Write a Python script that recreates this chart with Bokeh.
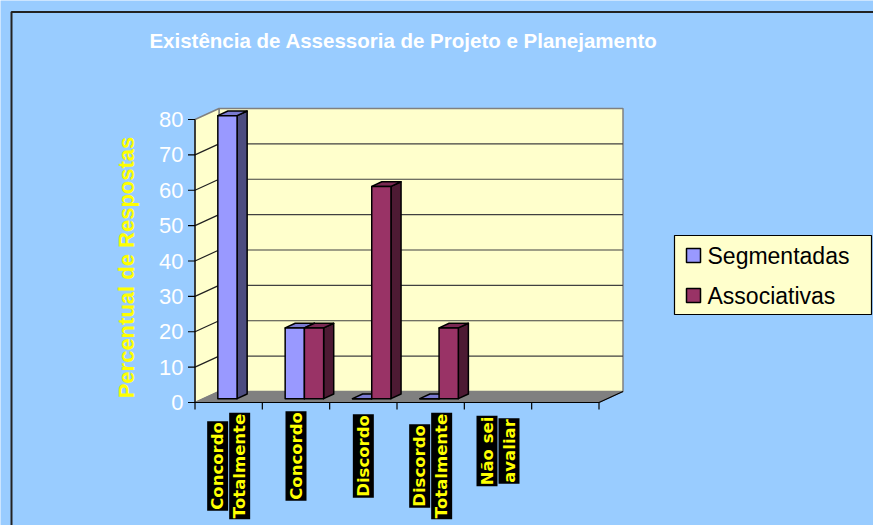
import math
from bokeh.plotting import figure
from bokeh.models import Range1d, ColumnDataSource
from bokeh.core.properties import value
from bokeh.embed import file_html
from bokeh.resources import INLINE

# ---------------- data ----------------
title_text = "Existência de Assessoria de Projeto e Planejamento"
y_axis_title = "Percentual de Respostas"
categories = ["Concordo\nTotalmente", "Concordo", "Discordo", "Discordo\nTotalmente", "Não sei\navaliar", ""]
series_names = ["Segmentadas", "Associativas"]
segmentadas = [80, 20, 0, 0, None, None]
associativas = [None, 20, 60, 20, None, None]
y_ticks = [0, 10, 20, 30, 40, 50, 60, 70, 80]

# ---------------- styles / geometry ----------------
BG = "#99CCFF"
WALL = "#FFFFCC"
FRONT = ["#9999FF", "#993366"]
SIDE = ["#4D4D80", "#4D1A33"]
TOP = ["#7A7AD0", "#7A2952"]

W, H = 873, 525
OX, OY = 194.5, 402.0        # screen px of the data origin
PXC = 404.0 / 6              # px per category
PXV = 283.0 / 80             # px per value unit
DX = 24.0 / PXC              # depth offset (x) in data units
DY = 11.0 / PXV              # depth offset (y) in data units
F0, F1 = 0.35, 0.77          # bar depth fractions
BW = 1 / 3.5                 # bar width (gap width 150%)


def X(sx):  # screen px -> data x
    return (sx - OX) / PXC


def Y(sy):  # screen px -> data y
    return (OY - sy) / PXV


p = figure(width=W, height=H, x_range=Range1d(X(0), X(W)), y_range=Range1d(Y(H), Y(0)),
           output_backend="svg", toolbar_location=None, x_axis_location=None, y_axis_location=None,
           min_border=0, background_fill_color=BG, border_fill_color=BG, outline_line_color=None)
p.min_border_left = p.min_border_right = p.min_border_top = p.min_border_bottom = 0
p.grid.visible = False

n_cat = len(categories)
ymax = max(y_ticks)

# outer chart border (top / left visible)
p.quad(left=[X(11)], right=[X(1000)], bottom=[Y(800)], top=[Y(11.5)], fill_color=None,
       line_color="#222222", line_width=2)

# walls and floor
p.quad(left=[DX], right=[n_cat + DX], bottom=[DY], top=[ymax + DY], fill_color=WALL,
       line_color="#808080", line_width=1.5)
p.patch([0, DX, DX, 0], [0, DY, ymax + DY, ymax], fill_color=WALL, line_color="#808080", line_width=1.5)
p.patch([0, n_cat, n_cat + DX, DX], [0, 0, DY, DY], fill_color="#808080", line_color="#808080")
p.segment(x0=[n_cat], y0=[0], x1=[n_cat + DX], y1=[DY], line_color="black", line_width=1.2)

inner = [v for v in y_ticks if 0 < v < ymax]
p.segment(x0=[DX] * len(inner), y0=[v + DY for v in inner], x1=[n_cat + DX] * len(inner),
          y1=[v + DY for v in inner], line_color="#404040", line_width=1.2)
p.segment(x0=[0] * len(inner), y0=inner, x1=[DX] * len(inner), y1=[v + DY for v in inner],
          line_color="#202020", line_width=1.2)

# axes
p.segment(x0=[0], y0=[0], x1=[0], y1=[ymax], line_color="black", line_width=1.2)
p.segment(x0=[-7 / PXC] * len(y_ticks), y0=y_ticks, x1=[0] * len(y_ticks), y1=y_ticks,
          line_color="black", line_width=1.2)
p.segment(x0=[0], y0=[0], x1=[n_cat], y1=[0], line_color="black", line_width=1.2)
cat_edges = list(range(n_cat + 1))
p.segment(x0=cat_edges, y0=[0] * len(cat_edges), x1=cat_edges, y1=[-7 / PXV] * len(cat_edges),
          line_color="black", line_width=1.2)

# 3D bars
xs, ys, fills = [], [], []
for i in range(n_cat):
    for s, vals in enumerate([segmentadas, associativas]):
        v = vals[i]
        if v is None:
            continue
        L = i + 0.75 * BW + s * BW
        R = L + BW
        a0, b0 = F0 * DX, F0 * DY
        a1, b1 = F1 * DX, F1 * DY
        # side
        xs.append([R + a0, R + a1, R + a1, R + a0]); ys.append([b0, b1, v + b1, v + b0]); fills.append(SIDE[s])
        # top
        xs.append([L + a0, R + a0, R + a1, L + a1]); ys.append([v + b0, v + b0, v + b1, v + b1]); fills.append(TOP[s])
        # front
        xs.append([L + a0, R + a0, R + a0, L + a0]); ys.append([b0, b0, v + b0, v + b0]); fills.append(FRONT[s])
p.patches(xs="xs", ys="ys", fill_color="fill", line_color="black", line_width=1.5, line_join="round",
          source=ColumnDataSource(dict(xs=xs, ys=ys, fill=fills)))

# y tick labels
p.text(x=[X(183)] * len(y_ticks), y=y_ticks, text=[str(v) for v in y_ticks], text_align="right",
       text_baseline="middle", text_color="white", text_font=value("Liberation Sans"),
       text_font_size="22px")

# y axis title
p.text(x=[X(126)], y=[Y(267)], text=[y_axis_title], angle=math.pi / 2, text_align="center",
       text_baseline="middle", text_color="#FFFF00", text_font=value("Liberation Sans"),
       text_font_style="bold", text_font_size="22px")

# category labels (each line in its own black box)
lx, ly, lt = [], [], []
for i, cat in enumerate(categories):
    if not cat:
        continue
    lines = cat.split("\n")
    n = len(lines)
    longest = max(len(t) for t in lines)
    cy = 413 + (10.0 * longest + 5) / 2
    for k, t in enumerate(lines):
        lx.append(i + 0.5 + (k - (n - 1) / 2) * 22 / PXC)
        ly.append(Y(cy))
        lt.append(t)
p.text(x="x", y="y", text="t", source=ColumnDataSource(dict(x=lx, y=ly, t=lt)), angle=math.pi / 2,
       text_align="center", text_baseline="middle", text_color="#FFFF00",
       text_font=value("DejaVu Sans"), text_font_style="bold", text_font_size="16.5px",
       background_fill_color="black", padding=1)

# title
p.text(x=[X(403)], y=[Y(40)], text=[title_text], text_align="center", text_baseline="middle",
       text_color="white", text_font=value("Liberation Sans"), text_font_style="bold",
       text_font_size="20.5px")

# legend
p.quad(left=[X(674)], right=[X(871)], bottom=[Y(314)], top=[Y(235)], fill_color=WALL,
       line_color="black", line_width=1.2)
leg_y = [255, 295]
p.quad(left=[X(686)] * 2, right=[X(700)] * 2, bottom=[Y(y + 7) for y in leg_y],
       top=[Y(y - 7) for y in leg_y], fill_color=FRONT, line_color="black", line_width=1.5)
p.text(x=[X(707)] * 2, y=[Y(y) for y in leg_y], text=series_names, text_align="left",
       text_baseline="middle", text_color="black", text_font=value("Liberation Sans"),
       text_font_size="23px")

open("out.html", "w").write(file_html(p, INLINE))
